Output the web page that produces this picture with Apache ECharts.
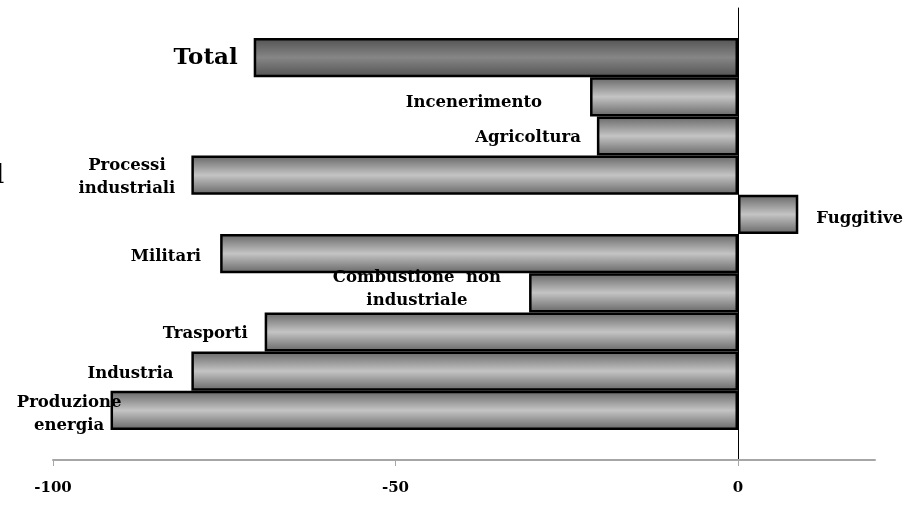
<!DOCTYPE html>
<html><head><meta charset="utf-8">
<script src="https://cdn.jsdelivr.net/npm/echarts@6/dist/echarts.min.js"></script>
<style>html,body{margin:0;padding:0;background:#fff}#c{width:913px;height:505px}</style>
</head><body><div id="c"></div>
<script>
// Data (top to bottom)
const categories = ['Total','Incenerimento','Agricoltura','Processi industriali','Fuggitive','Militari','Combustione non industriale','Trasporti','Industria','Produzione energia'];
const labelLines = [['Total'],['Incenerimento'],['Agricoltura'],['Processi','industriali'],['Fuggitive'],['Militari'],['Combustione  non','industriale'],['Trasporti'],['Industria'],['Produzione','energia']];
const values = [-70.7,-21.6,-20.6,-79.8,8.8,-75.6,-30.5,-69.1,-79.8,-91.6];
const xTicks = [-100,-50,0];

const FONT = 'DejaVu Serif';
const grad = (edge, mid) => new echarts.graphic.LinearGradient(0,0,0,1,[
  {offset:0,color:edge},{offset:0.5,color:mid},{offset:1,color:edge}]);

// per-label adjustments (style only)
const labelAdjust = {
  'Total': {offset:[0,0], size:23},
  'Incenerimento': {offset:[-32,6]},
  'Agricoltura': {offset:[0,2]},
  'Processi industriali': {offset:[0,2]},
  'Fuggitive': {offset:[2,4]},
  'Militari': {offset:[-3,3]},
  'Combustione non industriale': {offset:[-12,-4]},
  'Trasporti': {offset:[-1,2]},
  'Industria': {offset:[-2,3]},
  'Produzione energia': {offset:[27,4]}
};

const seriesData = categories.map((c,i)=>{
  const adj = labelAdjust[c] || {};
  const size = adj.size || 16.5;
  return {
    value: values[i],
    itemStyle: {color: c==='Total' ? grad('#525252','#868686') : grad('#666666','#c4c4c4')},
    label: {
      position: values[i] < 0 ? 'left' : 'right',
      offset: adj.offset || [0,0],
      formatter: () => labelLines[i].map(s=>'{c|'+s+'}').join('\n'),
      rich: {c:{align:'center', fontFamily:FONT, fontWeight:'bold', fontSize:size, color:'#000', lineHeight: 23}}
    }
  };
});

const chart = echarts.init(document.getElementById('c'), null, {renderer:'canvas'});
chart.setOption({
  animation:false,
  backgroundColor:'#fff',
  graphic:[{type:'text', left:-4, top:163, style:{text:'l', font:'26px "DejaVu Serif"', fill:'#000'}}],
  grid:[
    {left:53, right:38, top:8, bottom:45},
    {left:53, right:38, top:38, bottom:75}
  ],
  xAxis:[
    {gridIndex:0, type:'value', min:-100, max:20, interval:50,
     splitLine:{show:false},
     axisLine:{show:true, onZero:false, lineStyle:{color:'#a6a6a6', width:2}},
     axisTick:{show:true, length:6, customValues:xTicks, lineStyle:{color:'#a6a6a6', width:1}},
     axisLabel:{customValues:xTicks, margin:21, fontFamily:FONT, fontWeight:'bold', fontSize:15, color:'#000'}},
    {gridIndex:1, type:'value', min:-100, max:20, show:false, splitLine:{show:false}}
  ],
  yAxis:[
    {gridIndex:0, type:'category', data:[''], axisLabel:{show:false}, axisTick:{show:false},
     axisLine:{show:true, onZero:true, lineStyle:{color:'#000', width:1}}},
    {gridIndex:1, type:'category', data:categories, inverse:true, show:false}
  ],
  series:[{
    type:'bar', xAxisIndex:1, yAxisIndex:1,
    data: seriesData,
    barWidth:'100%', barCategoryGap:0,
    itemStyle:{borderColor:'#000', borderWidth:2.5},
    label:{show:true, distance:16},
    z:3
  }]
});
</script></body></html>
